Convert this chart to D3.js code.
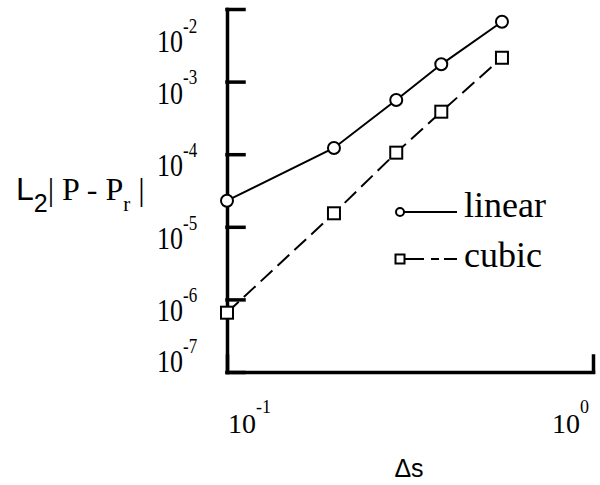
<!DOCTYPE html>
<html lang="en">
<head>
    <meta charset="UTF-8">
    <title>L2 error vs step size</title>
    <style>
        body { margin: 0; background: #fff; }
        .axis path, .axis line {
            stroke: #000;
            stroke-width: 3.5px;
            stroke-linecap: square;
        }
        .tick-label { font-family: "Liberation Serif", "Times New Roman", serif; fill: #000; }
        .legend text { font-family: "Liberation Serif", "Times New Roman", serif; font-size: 36px; fill: #000; }
    </style>
</head>
<body>
    <svg width="600" height="485"></svg>

    <script src="https://d3js.org/d3.v7.min.js"></script>
    <script>
        // data
        const ds = [0.1, 0.196, 0.29, 0.385, 0.564];
        const linearErr = [2.29e-5, 1.22e-4, 5.58e-4, 1.73e-3, 6.68e-3];
        const cubicErr = [6.56e-7, 1.535e-5, 1.05e-4, 3.85e-4, 2.13e-3];
        const yTickValues = [1e-2, 1e-3, 1e-4, 1e-5, 1e-6, 1e-7];
        const xTickValues = [0.1, 1];

        const svg = d3.select("svg");

        const x = d3.scaleLog().domain([0.1, 1]).range([227, 593]);
        const y = d3.scaleLog().domain([1e-7, 1e-2]).range([372, 9]);

        // axes: ticks point inward
        svg.append("g")
            .attr("class", "axis")
            .attr("transform", "translate(227,0)")
            .call(d3.axisRight(y).tickValues(yTickValues).tickSize(17).tickSizeOuter(0).tickFormat(() => ""));

        svg.append("g")
            .attr("class", "axis")
            .attr("transform", "translate(0,372)")
            .call(d3.axisTop(x).tickValues(xTickValues).tickSize(16).tickSizeOuter(0).tickFormat(() => ""));

        // "10^n" style labels
        function powLabel(g, exp, base, sup, supDy) {
            g.append("tspan").attr("font-size", base + "px").text("10");
            g.append("tspan").attr("font-size", sup + "px").attr("dy", supDy).text(exp);
        }

        yTickValues.forEach(v => {
            const by = Math.min(372, Math.max(52, y(v) + 22));
            const t = svg.append("text")
                .attr("class", "tick-label")
                .attr("transform", `translate(157,${by}) scale(1,1.2)`);
            powLabel(t, Math.round(Math.log10(v)), 26, 17, -16);
        });

        xTickValues.forEach((v, i) => {
            const last = i === xTickValues.length - 1;
            const t = svg.append("text")
                .attr("class", "tick-label")
                .attr("text-anchor", last ? "end" : "start")
                .attr("transform", `translate(${x(v) + (last ? -4 : 1)},433)`);
            powLabel(t, Math.round(Math.log10(v)), 28, 18, -20);
        });

        // axis titles
        const yt = svg.append("text").attr("x", 16).attr("y", 200).attr("fill", "#000");
        yt.append("tspan").attr("font-family", "Liberation Sans, Arial, sans-serif").attr("font-size", "32px").text("L");
        yt.append("tspan").attr("font-family", "Liberation Sans, Arial, sans-serif").attr("font-size", "25px").attr("dy", 12).text("2");
        yt.append("tspan").attr("font-family", "Liberation Serif, serif").attr("font-size", "32px").attr("dy", -12).text("| P - P");
        yt.append("tspan").attr("font-family", "Liberation Serif, serif").attr("font-size", "21px").attr("dy", 11).text("r");
        yt.append("tspan").attr("font-family", "Liberation Serif, serif").attr("font-size", "32px").attr("dy", -11).text(" |");

        svg.append("text")
            .attr("x", 409).attr("y", 477)
            .attr("text-anchor", "middle")
            .attr("font-family", "Liberation Sans, Arial, sans-serif")
            .attr("font-size", "25px")
            .text("\u0394s");

        // series
        const series = [
            { name: "linear", values: linearErr, dash: null, marker: "circle" },
            { name: "cubic", values: cubicErr, dash: "16,7", marker: "square" }
        ];

        const line = d3.line().x(d => x(d[0])).y(d => y(d[1]));

        series.forEach(s => {
            const pts = ds.map((d, i) => [d, s.values[i]]);
            svg.append("path")
                .datum(pts)
                .attr("d", line)
                .attr("fill", "none")
                .attr("stroke", "#000")
                .attr("stroke-width", 2)
                .attr("stroke-dasharray", s.dash);

            drawMarkers(svg, pts.map(p => [x(p[0]), y(p[1])]), s.marker, 6);
        });

        function drawMarkers(parent, xy, type, r) {
            if (type === "circle") {
                parent.selectAll(null).data(xy).enter().append("circle")
                    .attr("cx", d => d[0]).attr("cy", d => d[1]).attr("r", r)
                    .attr("fill", "#fff").attr("stroke", "#000").attr("stroke-width", 2);
            } else {
                parent.selectAll(null).data(xy).enter().append("rect")
                    .attr("x", d => d[0] - r).attr("y", d => d[1] - r)
                    .attr("width", 2 * r).attr("height", 2 * r)
                    .attr("fill", "#fff").attr("stroke", "#000").attr("stroke-width", 2);
            }
        }

        // legend
        const legend = svg.append("g").attr("class", "legend");
        series.forEach((s, i) => {
            const ly = 212 + i * 47;
            legend.append("line")
                .attr("x1", 400).attr("x2", 457).attr("y1", ly).attr("y2", ly)
                .attr("stroke", "#000").attr("stroke-width", 2)
                .attr("stroke-dasharray", s.dash ? "0,5,19,7,8,0" : null);
            drawMarkers(legend, [[400, ly]], s.marker, s.marker === "circle" ? 4 : 4.5);
            legend.append("text").attr("x", 464).attr("y", ly + 5 + (i ? 3 : 0)).text(s.name);
        });
    </script>
</body>
</html>
